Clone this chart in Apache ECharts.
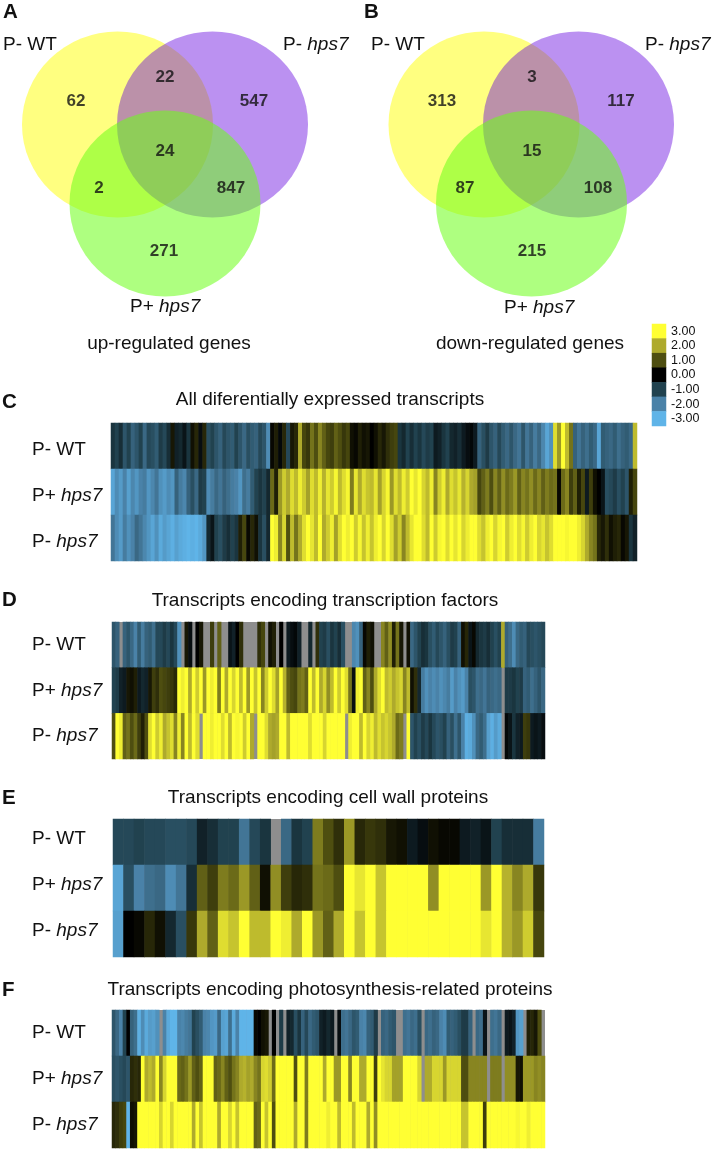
<!DOCTYPE html>
<html><head><meta charset="utf-8">
<style>html,body{margin:0;padding:0;background:#fff}#c{width:713px;height:1150px}</style>
<script src="https://cdn.jsdelivr.net/npm/echarts@6/dist/echarts.min.js"></script>
</head><body><div id="c"></div>
<script>
const rowNames = ['P- WT','P+ hps7','P- hps7'];
const legendValues = [3,2,1,0,-1,-2,-3];
const legendLabels = ['3.00','2.00','1.00','0.00','-1.00','-2.00','-3.00'];
const scaleColors = ['#5fb4e8','#4a82a8','#21424f','#000000','#4e4e10','#aeaa2c','#ffff33'];

const vennCirclesA = [[117.5,124.5],[212.5,124.5],[165,203.5]];
const vennCirclesB = [[484,124.5],[578.5,124.5],[531.5,203.5]];
const vennCountsA = [[76,101,62],[165,77,22],[254,101,547],[165,151,24],[99,188,2],[231,188,847],[164,251,271]];
const vennCountsB = [[442,101,313],[532,77,3],[621,101,117],[532,151,15],[465,188,87],[598,188,108],[532,251,215]];

const cWT = [-0.8,-1.0,-0.7,-1.3,-1.0,-1.5,-1.3,-1.0,-1.6,-1.1,
-1.2,-1.4,-0.9,-1.1,-0.7,0.3,-0.5,-0.6,-0.3,-0.8,
0.2,0.5,-0.2,0.5,-1.2,-1.0,-1.3,-1.5,-1.1,-1.3,
-1.4,-1.0,-1.3,-1.6,-1.2,-1.4,-1.5,-1.1,-1.3,-2.2,
0.1,0.4,-0.1,0.5,-1.1,0.3,0.5,2.0,0.9,0.7,
1.4,1.0,1.6,1.2,0.9,0.8,1.2,1.0,0.7,0.9,
0.2,0.1,0.4,0.2,0.3,0.0,0.2,0.5,0.3,0.6,
0.8,0.9,-0.8,-0.6,-1.0,-0.7,-1.0,-0.8,-1.1,-0.9,
-1.0,-0.4,-0.5,-0.8,-1.0,-0.6,-0.5,-0.7,-0.4,-0.2,
-0.1,-0.4,-1.5,-1.2,-0.9,-1.3,-1.5,-1.1,-1.4,-1.6,
-1.3,-1.6,-1.8,-1.3,-1.8,-1.5,-1.9,-1.6,-2.1,-2.7,
-2.3,2.6,1.8,3,2.2,1.4,-1.5,-1.8,-1.5,-1.7,
-1.4,-1.6,-2.7,-1.4,-1.5,-1.6,-1.4,-1.7,-1.5,-1.4,
-1.6,2.2];
const cPlus = [-2.7,-2.2,-2.5,-2.0,-2.6,-2.1,-2.4,-2.0,-1.9,-2.4,
-2.1,-1.8,-2.3,-2.5,-2.2,-2.4,-1.5,-1.9,-2.1,-1.5,
-1.2,-1.6,-0.9,-1.0,-2.2,-1.9,-1.6,-1.8,-1.5,-1.7,
-1.9,-2.0,-2.4,-1.7,-1.9,-1.4,-1.0,-0.8,-1.0,-0.6,
1.3,0.4,1.8,2.4,2.0,2.6,2.2,2.8,2.4,1.9,
2.6,2.2,2.8,2.1,2.7,2.4,2.9,2.2,2.6,2.9,
1.5,2.7,2.0,2.6,2.3,2.2,2.7,1.9,2.5,2.9,
1.8,2.6,2.2,2.8,2.4,3,2.7,3,2.5,2.2,
2.8,1.6,2.4,2.8,2.0,2.6,2.3,2.7,2.1,2.5,
2.0,1.9,0.9,1.2,1.5,1.0,1.6,1.2,1.7,1.3,
1.5,1.8,1.2,1.6,1.4,1.7,1.3,1.6,1.2,1.5,
1.3,1.4,0.1,1.3,1.6,0.8,1.2,0.4,0.9,-0.4,
0.8,0.2,0.0,-0.3,-1.2,-1.1,-0.9,-1.2,-1.0,-1.3,
0.4,0.9];
const cHps = [-1.8,-2.2,-2.5,-1.9,-2.3,-2.0,-1.6,-1.8,-2.1,-2.4,
-2.7,-2.3,-2.8,-2.5,-2.7,-2.9,-2.6,-2.8,-2.9,-3.0,
-2.9,-3,-2.8,-2.4,-0.6,-0.3,-1.0,-1.2,-0.9,-0.7,
-1.0,-0.8,0.4,0.9,0.1,0.5,0.2,-0.8,-1.2,-0.6,
3,2.8,1.6,2.5,1.0,2.2,1.4,2.0,2.6,3,
2.7,2.2,3,2.0,2.4,2.8,1.9,2.6,3,2.8,
3,2.4,2.9,2.3,2.8,2.3,2.8,3,2.5,3,
2.6,1.9,2.4,1.6,2.2,2.7,3,3,2.6,2.2,
3,2.4,2.9,3,2.6,3,2.7,3,2.5,2.8,
3,3,2.6,2.3,2.8,3,2.5,2.9,3,2.4,
2.8,3,2.6,2.9,2.4,2.8,3,2.5,2.7,2.3,
2.6,3,3,3,2.9,3,3,2.8,2.5,2.0,
1.6,1.4,0.5,0.3,0.6,0.2,0.4,0.5,0.1,0.3,
-0.8,-0.5];

const dWT = [-1.3,-1.5,null,-1.5,-1.3,-1.6,-2.0,-1.4,-1.9,-1.5,
-1.4,-1.7,-1.1,-1.1,-0.9,-1.1,-0.8,-1.1,-2.3,null,
0.3,-0.2,null,0.0,0.3,null,null,0.8,null,1.2,
null,null,-0.3,-0.5,0.0,0.6,null,null,null,null,
0.6,0.9,null,0.2,0.4,null,0.0,null,-0.4,-0.2,
-0.1,-0.5,null,null,-0.6,null,0.6,-1.0,-0.9,-1.2,
-0.8,-1.0,-0.7,-1.2,null,null,-2.1,-2.3,-1.5,0.1,
0.4,0.2,null,null,1.6,1.2,1.7,0.4,1.4,0.3,
null,0.2,-1.6,-1.3,-1.0,-0.7,-0.8,-1.2,-1.4,-1.1,
-1.3,-1.5,-1.2,-0.9,-1.0,-1.5,0.2,0.5,-0.3,0.1,
-0.6,-0.8,-0.9,-0.7,-1.0,-1.2,-1.0,2.0,-1.5,-1.7,
-2.2,-1.6,-1.4,-1.5,-1.1,-1.2,-1.3,-1.2,-1.1];
const dPlus = [-1.0,-0.9,-0.5,-0.4,0.3,0.2,0.4,-0.4,-0.6,-0.5,
0.3,0.8,0.6,1.0,0.9,0.8,0.7,0.5,3,2.8,
3,2,3,2.4,3,1.8,3,2.8,3,1.5,
3,2,3,2.5,3,2.2,3,1.8,3,2.3,
3,1.6,2.4,3,2.6,1.9,3,2.1,1.2,1.0,
0.9,1.4,1.5,1.2,3,2.2,3,2,2.5,1.7,
2.2,3,2.4,3,2.6,1.4,-0.2,2.8,3,1.2,
1.6,1.0,2.0,2.6,3,2.2,2.4,2.0,2.3,2.5,
1.6,2.2,0.2,0.6,-0.6,-1.9,-2.3,-2.0,-2.2,-2.0,
-2.3,-2.1,-1.9,-2.5,-2.0,-2.3,-2.5,-2.0,-1.2,-1.3,
-1.7,-1.6,-1.8,-1.5,-1.6,-1.7,-1.6,null,-0.9,-0.9,
-0.8,-1.0,-0.9,-1.5,-1.4,-1.7,-1.5,-1.3,-1.6];
const dHps = [1.0,3,2.8,1.2,1.4,1.0,1.3,0.8,0.4,1.0,
2.6,3,2.4,2.8,2.0,2.3,2.6,1.6,2.8,1.6,
3,2.2,3,2.6,null,3,3,2.8,3,3,
2.6,3,2.2,3,2.9,3,2.4,3,2.0,null,
3,3,2.6,2,1.9,2.0,3,3,2.2,3,
3,3,3,3,2.6,3,3,3,2.5,3,
3,3,3,3,null,2.8,3,3,2.2,3,
2.5,2.8,2.2,2.6,2.3,2.5,2.3,2.0,1.3,1.5,
null,3,-1.3,-1.0,-1.2,-0.9,-1.1,-0.8,-1.1,-1.3,
-1.2,-1.0,-1.5,-1.2,-1.7,-1.3,-2.0,-2.9,-2.8,-2.3,
-1.6,-1.4,-1.7,-2.6,-2.9,-2.5,-2.8,null,-0.1,-0.3,
-0.8,-0.5,-0.4,0.8,0.7,-0.4,-0.3,-0.4,-0.2];

const eWT = [-1.1,-1.1,-1.0,-1.1,-1.1,-1.2,-1.2,-1.1,-0.5,-0.7,
-1.0,-1.0,-1.8,-1.1,-0.8,null,-1.6,-0.8,-1.0,1.5,
1.0,0.6,1.8,0.5,0.7,0.6,0.3,0.2,-0.4,-0.2,
0.2,0.1,0.1,-0.4,-0.5,-0.3,-1.0,-0.7,-0.7,-0.7,-1.9];
const ePlus = [-2.7,-1.2,-2,-1.7,-1.6,-2.2,-1.8,-0.7,1.2,0.8,
1.5,1.3,1.8,1.2,0.2,1.7,0.8,0.5,0.6,1.4,
1.3,1,3,2.7,3,2.3,3,3,3,3,
1.7,3,3,3,3,1.8,3,2.1,1.6,2,0.7];
const eHps = [-2.6,0.0,0.1,0.5,0.2,-0.6,-1.2,0.7,2,1.2,
2.6,2.3,3,2.2,2.2,3,2.8,2.0,3,1.8,
1.2,2,3,2.3,3,2.3,3,3,3,3,
3,3,3,3,3,2.7,3,2.1,1.8,2.4,0.9];

const fWT = [-1.3,-1.6,-2.0,-1.0,0.0,-1.5,-1.7,-2.9,-2.2,-2.8,
-2.5,-2.6,-2.3,null,-2.0,-2.8,-3,-3,-2,-2.1,
-1.9,-1.8,-1.0,-1.2,-1.4,-2,-2.1,-2.4,-2.5,-1.6,
-2.6,-2.7,-1.7,-2.8,-2,-3,-3,-3,-3,0.1,
0.0,0.2,0.3,null,0.0,null,-0.9,null,-0.5,-0.6,
-1.2,-0.8,-1.5,-1.1,-1.6,-1.4,-1.3,-0.5,-0.4,-0.6,
-0.4,null,-0.2,-1.7,-1.8,-1.6,-1.3,-1.4,-2,-2.1,
-1.5,-1.4,-0.9,null,-1.5,-1.6,-1.4,-1.3,null,null,
-1.7,-1.8,-1.6,-1.7,-1.2,null,-1.6,-1.7,-1.5,-1.6,
-2.0,-2.2,-1.4,-1.5,-1.4,-1.2,-0.9,-0.9,-1.5,null,
-1.6,-1.7,-0.3,null,-1.7,-1.8,-1.6,null,-0.4,-0.3,
-0.5,-2.4,-2.6,null,0.4,0.5,0.3,1.0,null];
const fPlus = [-1.2,-1.3,-1.2,-1.1,-1.3,0.5,0.6,0.5,3,2,
2.2,2,3,1.6,2.5,3,3,3,1.3,1.2,
1.4,1.8,1.2,1.0,1.2,3,3,3,1.2,1.3,
1.6,1.2,1.0,1.4,1.6,2,2.1,1.9,2,1.6,
1.4,2.5,2.6,2.4,1.3,3,3,3,3,3,
1.0,3,3,1.5,3,3,3,3,2.0,3,
3,1.8,1.8,3,3,1.6,3,3,2,2,
3,3,0.8,3,2.7,2.5,2.5,1.9,1.9,1.9,
3,3,3,3,2.5,null,2,2,2.5,2.5,
2.5,1.8,2.5,2.5,2.5,2.5,1,1,1.6,1.6,
1.6,1.6,1.6,null,1.5,1.5,1.5,null,1.7,1.7,
1.7,0.3,0.2,1.8,1.8,1.8,1.6,1.7,1.6];
const fHps = [0.5,0.6,0.8,0.9,-3,0.2,0.3,3,3,3,
3,3,3,2.5,3,3,2.5,3,3,3,
3,3,2,3,2.3,3,3,3,3,2,
3,3,2.5,3,2.3,3,3,3,3,1.2,
1.3,3,2.3,3,1,3,3,3,3,3,
2,3,3,1.5,3,3,3,3,3,2.8,
3,3,2.2,3,3,3,2.2,3,3,3,
2,3,1.7,3,3,3,3,3,3,3,
3,3,3,3,3,3,3,3,3,3,
3,3,3,3,3,3,2.3,2.3,3,3,
3,3,0.8,3,3,3,3,3,3,3,
3,2.9,3,3,2.8,3,3,3,3];

const font = '"Liberation Sans", Arial, sans-serif';
const labelSize = 19;
const heatPanels = [
  {rows:[cWT,cPlus,cHps], left:111, top:423, width:526, height:138, pad:[7,0,0,0]},
  {rows:[dWT,dPlus,dHps], left:112, top:622, width:433, height:137, pad:[0,0,0,0]},
  {rows:[eWT,ePlus,eHps], left:113, top:819, width:431, height:138, pad:[0,0,7,0]},
  {rows:[fWT,fPlus,fHps], left:112, top:1010, width:433, height:138, pad:[0,0,0,0]}
];

const grids=[{left:0,top:0,width:713,height:1150,show:false}];
const xAxes=[{gridIndex:0,type:'value',min:0,max:713,show:false}];
const yAxes=[{gridIndex:0,type:'value',min:0,max:1150,inverse:true,show:false}];
const series=[];
const heatIdx=[];

function circles(data,color,z){
  series.push({type:'scatter',xAxisIndex:0,yAxisIndex:0,data:[data],symbolSize:[191,186],silent:true,z:z,
    itemStyle:{color:color,opacity:1,borderWidth:0},clip:false});
}
const vennColors=['rgba(255,255,128,1)','rgba(98,0,222,0.43)','rgba(108,255,24,0.55)'];
[vennCirclesA,vennCirclesB].forEach(set=>set.forEach((c,i)=>circles(c,vennColors[i],2+i)));
series.push({type:'scatter',xAxisIndex:0,yAxisIndex:0,z:6,symbolSize:0,silent:true,
  data:vennCountsA.concat(vennCountsB),
  label:{show:true,position:'inside',formatter:p=>String(p.value[2]),
    fontFamily:font,fontWeight:'bold',fontSize:17,color:'#111'}});

heatPanels.forEach((p,k)=>{
  const gi=k+1;
  grids.push({left:p.left,top:p.top,width:p.width,height:p.height,show:true,
    backgroundColor:'#8e8e8e',borderWidth:0});
  const n=p.rows[0].length;
  xAxes.push({gridIndex:gi,type:'category',show:false,data:Array.from({length:n},(_,i)=>i)});
  yAxes.push({gridIndex:gi,type:'category',inverse:true,data:rowNames,
    axisLine:{show:false},axisTick:{show:false},splitLine:{show:false},
    axisLabel:{align:'left',margin:p.left-32,fontFamily:font,fontSize:labelSize,color:'#111',padding:p.pad,
      formatter:v=>v.includes('hps7')?`{n|${v.slice(0,3)}}{i|hps7}`:`{n|${v}}`,
      rich:{n:{fontFamily:font,fontSize:labelSize,color:'#111'},
            i:{fontFamily:font,fontSize:labelSize,fontStyle:'italic',color:'#111'}}}});
  const data=[];
  p.rows.forEach((row,r)=>row.forEach((v,i)=>data.push([i,r,v===null?'-':v])));
  heatIdx.push(series.length);
  series.push({type:'heatmap',xAxisIndex:gi,yAxisIndex:gi,data:data,progressive:0,silent:true,
    itemStyle:{borderWidth:0}});
});

// colour key
grids.push({left:652,top:324,width:14,height:102,show:false});
xAxes.push({gridIndex:5,type:'category',show:false,data:['key']});
yAxes.push({gridIndex:5,type:'category',inverse:true,position:'right',data:legendLabels,
  axisLine:{show:false},axisTick:{show:false},
  axisLabel:{interval:0,margin:5,fontFamily:font,fontSize:12.5,color:'#111'}});
heatIdx.push(series.length);
series.push({type:'heatmap',xAxisIndex:5,yAxisIndex:5,progressive:0,silent:true,
  data:legendValues.map((v,i)=>[0,i,v])});

function txt(text,x,y,opts={}){
  return {type:'text',silent:true,x:x,y:y,style:Object.assign({
    text:text,fill:'#111',font:labelSize+'px '+font,textAlign:'left',textVerticalAlign:'middle',
    rich:{i:{fontFamily:font,fontSize:labelSize,fontStyle:'italic',fill:'#111',color:'#111'},
          n:{fontFamily:font,fontSize:labelSize,fill:'#111',color:'#111'}}},opts)};
}
const letter={font:'bold 20.5px '+font};
const mid={textAlign:'center'};
const graphics=[
  txt('A',3,12,letter),txt('B',364,12,letter),txt('C',2,402,letter),
  txt('D',2,600,letter),txt('E',2,798,letter),txt('F',2,990,letter),
  txt('{n|P- WT}',3,45),txt('{n|P- }{i|hps7}',283,45),txt('{n|P+ }{i|hps7}',130,307),
  txt('up-regulated genes',169,344,mid),
  txt('{n|P- WT}',371,45),txt('{n|P- }{i|hps7}',645,45),txt('{n|P+ }{i|hps7}',504,308),
  txt('down-regulated genes',530,344,mid),
  txt('All diferentially expressed transcripts',330,400,mid),
  txt('Transcripts encoding transcription factors',325,601,mid),
  txt('Transcripts encoding cell wall proteins',328,798,mid),
  txt('Transcripts encoding photosynthesis-related proteins',330,990,mid)
];

const chart=echarts.init(document.getElementById('c'),null,{renderer:'canvas'});
chart.setOption({
  animation:false,backgroundColor:'#fff',
  grid:grids,xAxis:xAxes,yAxis:yAxes,series:series,
  visualMap:[{type:'continuous',show:false,min:-3,max:3,dimension:2,seriesIndex:heatIdx,
    inRange:{color:scaleColors}}],
  graphic:{elements:graphics}
});
</script></body></html>
